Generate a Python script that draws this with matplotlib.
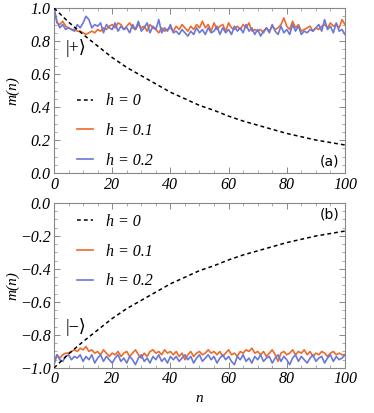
import matplotlib
matplotlib.use("Agg")
import matplotlib.pyplot as plt
import numpy as np
from matplotlib.ticker import MultipleLocator

n = np.arange(101)

# dashed h = 0 curve, read every 5 steps
n_h0 = np.arange(0, 101, 5)
m_h0 = [1.0, 0.915, 0.84, 0.77, 0.70, 0.64, 0.59, 0.54, 0.49, 0.45, 0.41,
        0.38, 0.345, 0.315, 0.29, 0.265, 0.24, 0.22, 0.20, 0.185, 0.17]

plus_h01 = [1.0, 0.91, 0.90, 0.92, 0.89, 0.88, 0.87, 0.87, 0.86, 0.86, 0.85,
            0.84, 0.85, 0.86, 0.85, 0.87, 0.86, 0.88, 0.87, 0.89, 0.90,
            0.88, 0.91, 0.90, 0.87, 0.89, 0.91, 0.88, 0.87, 0.90, 0.88,
            0.89, 0.86, 0.90, 0.88, 0.87, 0.85, 0.88, 0.86, 0.87, 0.88,
            0.86, 0.89, 0.87, 0.90, 0.88, 0.86, 0.89, 0.87, 0.90, 0.88,
            0.92, 0.88, 0.90, 0.86, 0.91, 0.87, 0.89, 0.90, 0.86, 0.91,
            0.88, 0.87, 0.89, 0.87, 0.90, 0.88, 0.91, 0.86, 0.87, 0.86,
            0.87, 0.85, 0.88, 0.86, 0.89, 0.87, 0.88, 0.90, 0.94, 0.89,
            0.87, 0.92, 0.88, 0.90, 0.86, 0.87, 0.88, 0.89, 0.86, 0.88,
            0.87, 0.89, 0.90, 0.88, 0.91, 0.89, 0.90, 0.88, 0.93, 0.90]

plus_h02 = [1.0, 0.92, 0.88, 0.90, 0.87, 0.88, 0.87, 0.86, 0.90, 0.88, 0.91,
            0.95, 0.93, 0.88, 0.90, 0.89, 0.91, 0.85, 0.90, 0.88, 0.87,
            0.91, 0.86, 0.89, 0.87, 0.88, 0.85, 0.90, 0.87, 0.92, 0.86,
            0.88, 0.91, 0.85, 0.89, 0.87, 0.93, 0.85, 0.88, 0.86, 0.90,
            0.85, 0.86, 0.84, 0.87, 0.85, 0.83, 0.86, 0.84, 0.88, 0.85,
            0.87, 0.84, 0.88, 0.85, 0.86, 0.89, 0.84, 0.88, 0.85, 0.87,
            0.84, 0.89, 0.86, 0.88, 0.85, 0.90, 0.86, 0.88, 0.84, 0.87,
            0.83, 0.86, 0.88, 0.85, 0.90, 0.86, 0.84, 0.89, 0.85, 0.87,
            0.84, 0.90, 0.86, 0.89, 0.84, 0.86, 0.85, 0.87, 0.86, 0.88,
            0.90, 0.86, 0.93, 0.87, 0.89, 0.85, 0.91, 0.86, 0.87, 0.84]

minus_h01 = [-0.97, -0.92, -0.94, -0.92, -0.91, -0.91, -0.90, -0.89, -0.90, -0.88, -0.89,
             -0.87, -0.90, -0.89, -0.91, -0.90, -0.92, -0.89, -0.91, -0.93, -0.91,
             -0.92, -0.90, -0.93, -0.91, -0.90, -0.93, -0.91, -0.89, -0.92, -0.94,
             -0.91, -0.93, -0.90, -0.89, -0.91, -0.90, -0.92, -0.89, -0.91, -0.90,
             -0.92, -0.90, -0.93, -0.91, -0.95, -0.92, -0.90, -0.93, -0.91, -0.90,
             -0.92, -0.91, -0.89, -0.91, -0.90, -0.92, -0.90, -0.93, -0.91, -0.89,
             -0.92, -0.91, -0.93, -0.90, -0.91, -0.89, -0.90, -0.88, -0.91, -0.90,
             -0.92, -0.90, -0.93, -0.91, -0.89, -0.92, -0.96, -0.91, -0.90, -0.92,
             -0.91, -0.89, -0.92, -0.90, -0.91, -0.89, -0.92, -0.90, -0.93, -0.91,
             -0.92, -0.90, -0.91, -0.93, -0.91, -0.90, -0.92, -0.91, -0.92, -0.92]

minus_h02 = [-0.98, -0.92, -0.95, -0.96, -0.93, -0.92, -0.95, -0.93, -0.94, -0.92, -0.96,
             -0.93, -0.95, -0.92, -0.97, -0.94, -0.92, -0.96, -0.93, -0.95, -0.97,
             -0.94, -0.92, -0.96, -0.94, -0.97, -0.93, -0.95, -0.98, -0.94, -0.92,
             -0.96, -0.94, -0.97, -0.93, -0.95, -0.92, -0.96, -0.94, -0.97, -0.93,
             -0.95, -0.93, -0.96, -0.94, -0.92, -0.95, -0.93, -0.97, -0.94, -0.92,
             -0.96, -0.94, -0.92, -0.95, -0.93, -0.97, -0.94, -0.92, -0.95, -0.93,
             -0.96, -0.98, -0.93, -0.95, -0.92, -0.96, -0.94, -0.97, -0.93, -0.95,
             -0.92, -0.96, -0.94, -0.93, -0.97, -0.94, -0.92, -0.96, -0.93, -0.95,
             -0.98, -0.94, -0.92, -0.96, -0.93, -0.95, -0.97, -0.94, -0.92, -0.96,
             -0.94, -0.93, -0.97, -0.94, -0.92, -0.96, -0.93, -0.95, -0.94, -0.92]

ORANGE = "#EE6A2B"
BLUE = "#6A78D6"
FRAME = "#888888"
SERIF = ["Liberation Serif", "DejaVu Serif"]
tick_font = dict(family=SERIF, style="italic", size=11.5)
label_font = dict(family=SERIF, style="italic", size=11)


def style_axes(ax, ylim):
    ax.set_xlim(0, 100)
    ax.set_ylim(*ylim)
    ax.xaxis.set_major_locator(MultipleLocator(20))
    ax.xaxis.set_minor_locator(MultipleLocator(5))
    ax.yaxis.set_major_locator(MultipleLocator(0.2))
    ax.yaxis.set_minor_locator(MultipleLocator(0.05))
    ax.tick_params(which="both", direction="in", top=True, right=True, color=FRAME)
    ax.tick_params(which="major", length=4, width=0.7)
    ax.tick_params(which="minor", length=2, width=0.5)
    ax.tick_params(axis="both", pad=2.5)
    for s in ax.spines.values():
        s.set_color(FRAME)
        s.set_linewidth(0.8)
    xt = ax.get_xticks()
    ax.set_xticks(xt)
    ax.set_xticklabels([f"{int(v)}" for v in xt], fontdict=tick_font)
    yt = ax.get_yticks()
    ax.set_yticks(yt)
    ax.set_yticklabels([f"{v:.1f}".replace("-", "\u2212") for v in yt], fontdict=tick_font)
    ax.set_xlim(0, 100)
    ax.set_ylim(*ylim)
    ax.set_ylabel("m(n)", fontdict=label_font)
    ax.yaxis.set_label_coords(-0.118, 0.5)


fig = plt.figure(figsize=(3.74, 4.13), dpi=100)
ax1 = fig.add_axes([0.1444, 0.581, 0.778, 0.3995])
ax2 = fig.add_axes([0.1444, 0.109, 0.778, 0.3995])

leg_font = dict(family=SERIF, style="italic", size=11.5)

for ax, h0, o, b in [(ax1, m_h0, plus_h01, plus_h02),
                     (ax2, [-v for v in m_h0], minus_h01, minus_h02)]:
    ax.plot(n_h0, h0, color="black", ls=(0, (2.5, 2)), lw=1.1, label="h = 0", zorder=3)
    ax.plot(n, o, color=ORANGE, lw=1.2, label="h = 0.1")
    ax.plot(n, b, color=BLUE, lw=1.2, label="h = 0.2")

style_axes(ax1, (0, 1))
style_axes(ax2, (-1, 0))

ax2.set_xlabel("n", fontdict=label_font, labelpad=3)

ax1.legend(loc="upper left", bbox_to_anchor=(0.03, 0.57), frameon=False, prop=leg_font,
           handlelength=1.0, labelspacing=0.85, handletextpad=0.8)
ax2.legend(loc="upper left", bbox_to_anchor=(0.03, 1.02), frameon=False, prop=leg_font,
           handlelength=1.0, labelspacing=0.85, handletextpad=0.8)

ket_font = ["Liberation Serif", "DejaVu Sans"]
ax1.text(7.5, 0.755, "|+\u27E9", family=ket_font, size=13, ha="center", va="center")
ax2.text(7.5, -0.75, "|\u2212\u27E9", family=ket_font, size=13, ha="center", va="center")

ax1.text(98, 0.03, "(a)", family="DejaVu Sans", size=10, ha="right", va="bottom")
ax2.text(98, -0.03, "(b)", family="DejaVu Sans", size=10, ha="right", va="top")

fig.savefig("out.png", dpi=100)
